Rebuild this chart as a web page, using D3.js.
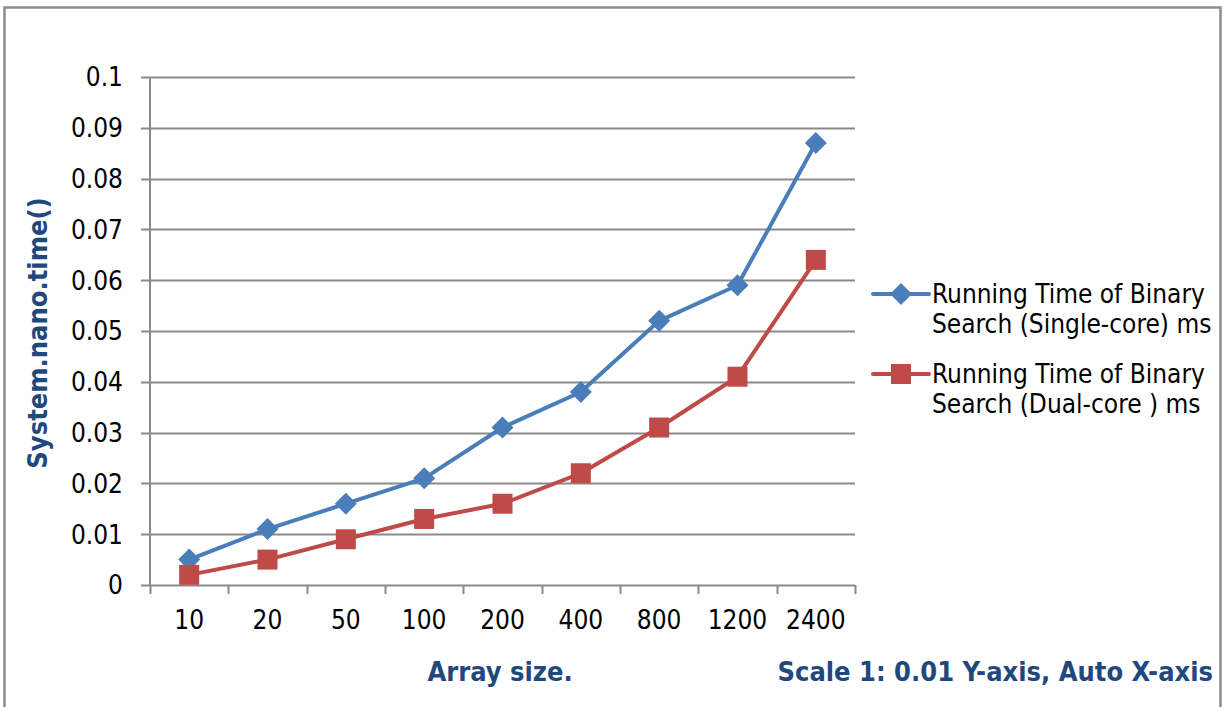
<!DOCTYPE html>
<html>
<head>
<meta charset="utf-8">
<script src="https://cdn.jsdelivr.net/npm/d3@7"></script>
<style>
  body { margin: 0; background: #fff; }
  svg text { font-family: "DejaVu Sans Condensed", "DejaVu Sans", sans-serif; }
  .tick-lbl { font-size: 26px; fill: #000; }
  .ttl { font-size: 27px; font-weight: bold; fill: #1f497d; }
  .leg { font-size: 26px; fill: #000; }
</style>
</head>
<body>
<script>
var sizes = ["10", "20", "50", "100", "200", "400", "800", "1200", "2400"];
var singleCore = [0.005, 0.011, 0.016, 0.021, 0.031, 0.038, 0.052, 0.059, 0.087];
var dualCore = [0.002, 0.005, 0.009, 0.013, 0.016, 0.022, 0.031, 0.041, 0.064];
var yTicks = [0, 0.01, 0.02, 0.03, 0.04, 0.05, 0.06, 0.07, 0.08, 0.09, 0.1];
var seriesNames = [["Running Time of Binary", "Search (Single-core) ms"],
                   ["Running Time of Binary", "Search (Dual-core ) ms"]];

var W = 1225, H = 707;
var Plot_ = {left: 150, right: 855, top: 77, bottom: 585};
var Col_ = ["#4a7ebb", "#be4b48"];

var svg = d3.select("body").append("svg")
  .attr("width", W).attr("height", H);

svg.append("rect")
  .attr("x", 4.5).attr("y", 7.5)
  .attr("width", 1216).attr("height", 720)
  .attr("fill", "#fff")
  .attr("stroke", "#8c8c8c")
  .attr("stroke-width", 2.5);

var x = d3.scaleBand().domain(sizes).range([Plot_.left, Plot_.right]);
var y = d3.scaleLinear().domain([0, 0.1]).range([Plot_.bottom, Plot_.top]);

// gridlines + y ticks
svg.append("g").selectAll("line")
  .data(yTicks).enter().append("line")
  .attr("x1", Plot_.left - 9).attr("x2", Plot_.right)
  .attr("y1", function(d) { return Math.round(y(d)) + 0.5; })
  .attr("y2", function(d) { return Math.round(y(d)) + 0.5; })
  .attr("stroke", "#898989").attr("stroke-width", 2);

svg.append("g").selectAll("text")
  .data(yTicks).enter().append("text")
  .attr("class", "tick-lbl")
  .attr("x", Plot_.left - 27)
  .attr("y", function(d) { return y(d); })
  .attr("dy", "0.36em")
  .attr("text-anchor", "end")
  .text(function(d) { return d3.format("")(+d.toFixed(2)); });

// y axis line
svg.append("line")
  .attr("x1", Plot_.left).attr("x2", Plot_.left)
  .attr("y1", Plot_.top).attr("y2", Plot_.bottom)
  .attr("stroke", "#898989").attr("stroke-width", 2);

// x axis ticks at band edges
var edges = sizes.map(function(d) { return x(d); }).concat([Plot_.right]);
svg.append("g").selectAll("line")
  .data(edges).enter().append("line")
  .attr("x1", function(d) { return Math.round(d) + 0.5; })
  .attr("x2", function(d) { return Math.round(d) + 0.5; })
  .attr("y1", Plot_.bottom).attr("y2", Plot_.bottom + 9)
  .attr("stroke", "#898989").attr("stroke-width", 2);

svg.append("g").selectAll("text")
  .data(sizes).enter().append("text")
  .attr("class", "tick-lbl")
  .attr("x", function(d) { return x(d) + x.bandwidth() / 2; })
  .attr("y", 629)
  .attr("text-anchor", "middle")
  .text(function(d) { return d; });

// titles
svg.append("text").attr("class", "ttl")
  .attr("transform", "translate(47,333) rotate(-90)")
  .attr("text-anchor", "middle")
  .text("System.nano.time()");
svg.append("text").attr("class", "ttl")
  .attr("x", 500).attr("y", 681)
  .attr("text-anchor", "middle")
  .text("Array size.");
svg.append("text").attr("class", "ttl")
  .attr("x", 1213).attr("y", 681)
  .attr("text-anchor", "end")
  .text("Scale 1: 0.01 Y-axis, Auto X-axis");

// series
var line = d3.line()
  .x(function(d, i) { return x(sizes[i]) + x.bandwidth() / 2; })
  .y(function(d) { return y(d); });

function diamond(g, cx, cy, c) {
  g.append("path")
    .attr("d", "M0,-11L11,0L0,11L-11,0Z")
    .attr("transform", "translate(" + cx + "," + cy + ")")
    .attr("fill", c);
}
function square(g, cx, cy, c) {
  g.append("rect")
    .attr("x", cx - 10).attr("y", cy - 10)
    .attr("width", 20).attr("height", 20)
    .attr("fill", c);
}
var markers = [diamond, square];

[singleCore, dualCore].forEach(function(vals, k) {
  var g = svg.append("g").attr("class", "series s" + k);
  g.append("path")
    .attr("d", line(vals))
    .attr("fill", "none")
    .attr("stroke", Col_[k])
    .attr("stroke-width", 4)
    .attr("stroke-linejoin", "round");
  vals.forEach(function(v, i) {
    markers[k](g, x(sizes[i]) + x.bandwidth() / 2, y(v), Col_[k]);
  });
});

// legend
var legY = [294, 374];
seriesNames.forEach(function(names, k) {
  var g = svg.append("g").attr("class", "legend");
  g.append("line")
    .attr("x1", 873).attr("x2", 929)
    .attr("y1", legY[k]).attr("y2", legY[k])
    .attr("stroke", Col_[k]).attr("stroke-width", 4)
    .attr("stroke-linecap", "round");
  markers[k](g, 901, legY[k], Col_[k]);
  g.selectAll("text").data(names).enter().append("text")
    .attr("class", "leg")
    .attr("x", 932)
    .attr("y", function(d, i) { return legY[k] + 9 + i * 30; })
    .text(function(d) { return d; });
});
</script>
</body>
</html>
